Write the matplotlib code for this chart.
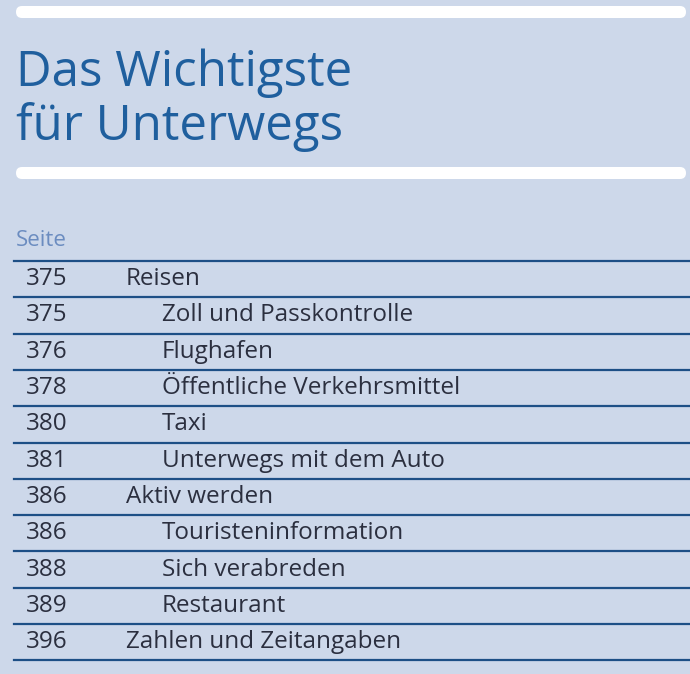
import matplotlib
matplotlib.use("Agg")
import matplotlib.pyplot as plt
from matplotlib.patches import FancyBboxPatch

title_lines = ["Das Wichtigste", "für Unterwegs"]
header = "Seite"
pages = ["375", "375", "376", "378", "380", "381", "386", "386", "388", "389", "396"]
entries = ["Reisen", "Zoll und Passkontrolle", "Flughafen", "Öffentliche Verkehrsmittel",
           "Taxi", "Unterwegs mit dem Auto", "Aktiv werden", "Touristeninformation",
           "Sich verabreden", "Restaurant", "Zahlen und Zeitangaben"]
levels = [0, 1, 1, 1, 1, 1, 0, 1, 1, 1, 0]

W, H = 690, 674
bg = "#cdd8ea"
blue = "#1f5f9e"
line_c = "#1d4f86"
txt = "#2b2f3f"
font = "Open Sans"

fig = plt.figure(figsize=(W/100, H/100), dpi=100, facecolor=bg)
ax = fig.add_axes([0, 0, 1, 1])
ax.set_xlim(0, W); ax.set_ylim(H, 0); ax.axis("off")
ax.set_facecolor(bg)

for y in (6, 167):
    ax.add_patch(FancyBboxPatch((16, y), 670, 12, boxstyle="round,pad=0,rounding_size=6",
                                fc="white", ec="none"))

ax.text(16, 86, title_lines[0], fontsize=35.5, color=blue, family=font, va="baseline")
ax.text(16, 140, title_lines[1], fontsize=35.5, color=blue, family=font, va="baseline")
ax.text(16, 241, header, fontsize=16, color="#6b8cc0", family=font, va="center")

top = 261
step = 36.3
ax.plot([14, W], [top, top], color=line_c, lw=1.6)
for i, (p, e, lv) in enumerate(zip(pages, entries, levels)):
    yc = top + step * (i + 0.5)
    ax.text(47, yc, p, fontsize=17.5, color=txt, family=font, ha="center", va="center")
    ax.text(126 + 36 * lv, yc, e, fontsize=17.5, color=txt, family=font, va="center")
    yl = top + step * (i + 1)
    ax.plot([14, W], [yl, yl], color=line_c, lw=1.6)

fig.savefig("out.png", dpi=100, facecolor=bg)
